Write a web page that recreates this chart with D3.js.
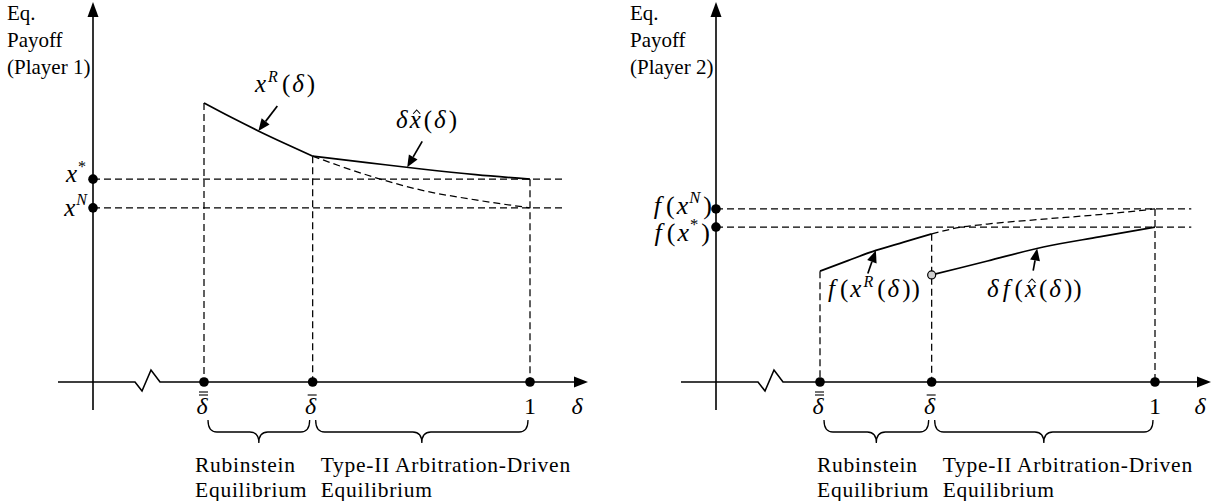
<!DOCTYPE html>
<html>
<head>
<meta charset="utf-8">
<script src="https://cdn.jsdelivr.net/npm/d3@7"></script>
<style>
  html, body { margin: 0; padding: 0; background: #fff; }
  svg { display: block; }
</style>
</head>
<body>
<svg id="chart" width="1225" height="501"></svg>
<script>
// Discount factors marked on the horizontal axis: double-bar delta, bar delta, 1
const deltaTicks = [0.4, 0.6, 1.0];
const tickLabels = ["δ", "δ", "1"];
const tickBars = [2, 1, 0];

// Player 1 payoffs
const p1Levels = [0.538, 0.462];                 // x*, x^N
const xRDelta = [0.40, 0.45, 0.50, 0.55, 0.60];
const xRValues = [0.740, 0.702, 0.666, 0.632, 0.599];
const xRContDelta = [0.60, 0.70, 0.80, 0.90, 1.00];
const xRContValues = [0.599, 0.549, 0.509, 0.483, 0.462];
const xHatDelta = [0.60, 0.70, 0.80, 0.90, 1.00];
const xHatValues = [0.599, 0.582, 0.565, 0.550, 0.538];

// Player 2 payoffs
const p2Levels = [0.459, 0.411];                 // f(x^N), f(x*)
const fRDelta = [0.40, 0.45, 0.50, 0.55, 0.60];
const fRValues = [0.294, 0.322, 0.349, 0.371, 0.393];
const fRContDelta = [0.60, 0.65, 0.70, 0.80, 0.90, 1.00];
const fRContValues = [0.393, 0.410, 0.419, 0.432, 0.444, 0.459];
const fHatDelta = [0.60, 0.70, 0.80, 0.90, 1.00];
const fHatValues = [0.284, 0.321, 0.358, 0.385, 0.411];

// Regime names under the braces
const regimeNames = [["Rubinstein", "Equilibrium"], ["Type-II Arbitration-Driven", "Equilibrium"]];

const levelLineEnd = 1.065;   // horizontal reference lines run a little past delta = 1

const FONT = "'Liberation Serif', 'Times New Roman', serif";
const svg = d3.select("#chart");
const y = d3.scaleLinear().domain([0, 1]).range([382, 5]);
const zip = (a, b) => a.map((d, i) => [d, b[i]]);

// Text made of upright / italic / superscript runs
function rich(g, x, yy, parts, size, anchor) {
  const t = g.append("text")
    .attr("x", x).attr("y", yy)
    .attr("font-family", FONT)
    .attr("font-size", size)
    .attr("text-anchor", anchor || "start");
  let shift = 0;
  const hats = [];
  let idx = 0;
  parts.forEach(p => {
    const ts = t.append("tspan").text(p.t);
    if (p.i) ts.attr("font-style", "italic");
    const target = p.sup ? -size * 0.42 : 0;
    let dy = target - shift;
    if (dy !== 0) { ts.attr("dy", dy); shift = target; }
    if (p.sup) ts.attr("font-size", size * 0.64);
    if (p.dx) ts.attr("dx", p.dx);
    if (p.hat) hats.push(idx);
    idx += p.t.length;
  });
  const node = t.node();
  hats.forEach(ci => {
    const s = node.getStartPositionOfChar(ci);
    const e = node.getEndPositionOfChar(ci);
    const cx = (s.x + e.x) / 2 + 1.5;
    const top = yy - size * 0.47 - 2.5;
    g.append("path")
      .attr("d", `M${cx - 3.5},${top} L${cx},${top - 3.8} L${cx + 3.5},${top}`)
      .attr("fill", "none").attr("stroke", "#000").attr("stroke-width", 1.1);
  });
  return t;
}

function arrow(g, x1, y1, x2, y2) {
  const ang = Math.atan2(y2 - y1, x2 - x1);
  const L = 12, W = 5;
  const bx = x2 - L * Math.cos(ang), by = y2 - L * Math.sin(ang);
  g.append("line").attr("x1", x1).attr("y1", y1).attr("x2", bx).attr("y2", by)
    .attr("stroke", "#000").attr("stroke-width", 1.7);
  const px = -Math.sin(ang) * W, py = Math.cos(ang) * W;
  g.append("path")
    .attr("d", `M${x2},${y2} L${bx + px},${by + py} L${bx - px},${by - py} Z`)
    .attr("fill", "#000");
}

function brace(g, x1, x2, top, mid, tip) {
  const cx = (x1 + x2) / 2, r = 9;
  g.append("path")
    .attr("d", `M${x1},${top} Q${x1},${mid} ${x1 + r},${mid} L${cx - r},${mid} Q${cx},${mid} ${cx},${tip}` +
               ` Q${cx},${mid} ${cx + r},${mid} L${x2 - r},${mid} Q${x2},${mid} ${x2},${top}`)
    .attr("fill", "none").attr("stroke", "#000").attr("stroke-width", 1.3);
}

function interp(ds, vs, d) {
  for (let i = 1; i < ds.length; i++) {
    if (d <= ds[i]) {
      const t = (d - ds[i - 1]) / (ds[i] - ds[i - 1]);
      return vs[i - 1] + t * (vs[i] - vs[i - 1]);
    }
  }
  return vs[vs.length - 1];
}

const panels = [
  {
    axisX: 93, xRange: [204, 530], player: "(Player 1)",
    levels: p1Levels,
    levelLabels: [
      { parts: [{ t: "x", i: true }, { t: "*", sup: true, dx: 1 }], dx: -7, dy: 3, size: 25 },
      { parts: [{ t: "x", i: true }, { t: "N", i: true, sup: true, dx: 1 }], dx: -6, dy: 8, size: 25 }
    ],
    solid: [[xRDelta, xRValues], [xHatDelta, xHatValues]],
    dashed: [[xRContDelta, xRContValues]],
    tickTops: [xRValues[0], xRValues[xRValues.length - 1], p1Levels[0]],
    labels: [
      { x: 255, y: 92, parts: [{ t: "x", i: true }, { t: "R", i: true, sup: true, dx: 2 }, { t: "(", dx: 4 }, { t: "δ", i: true, dx: 2 }, { t: ")", dx: 3 }] },
      { x: 396, y: 128, parts: [{ t: "δ", i: true }, { t: "x", i: true, hat: true, dx: 2 }, { t: "(", dx: 3 }, { t: "δ", i: true, dx: 2 }, { t: ")", dx: 3 }] }
    ],
    arrows: [
      { curve: [xRDelta, xRValues], at: 0.5, dx: 19, dy: -25 },
      { curve: [xHatDelta, xHatValues], at: 0.774, dx: 15, dy: -26 }
    ],
    openDot: null,
    textLeft: -9, textRight: 8
  },
  {
    axisX: 716, xRange: [820, 1155], player: "(Player 2)",
    levels: p2Levels,
    levelLabels: [
      { parts: [{ t: "f", i: true }, { t: "(", dx: 5 }, { t: "x", i: true, dx: 2 }, { t: "N", i: true, sup: true, dx: 1 }, { t: ")", dx: 3 }], dx: -4, dy: 5, size: 26 },
      { parts: [{ t: "f", i: true }, { t: "(", dx: 5 }, { t: "x", i: true, dx: 2 }, { t: "*", sup: true, dx: 1 }, { t: ")", dx: 3 }], dx: -6, dy: 14, size: 26 }
    ],
    solid: [[fRDelta, fRValues], [fHatDelta, fHatValues]],
    dashed: [[fRContDelta, fRContValues]],
    tickTops: [fRValues[0], fRValues[fRValues.length - 1], p2Levels[0]],
    labels: [
      { x: 828, y: 297, parts: [{ t: "f", i: true }, { t: "(", dx: 5 }, { t: "x", i: true, dx: 2 }, { t: "R", i: true, sup: true, dx: 2 }, { t: "(", dx: 4 }, { t: "δ", i: true, dx: 2 }, { t: ")", dx: 3 }, { t: ")", dx: 1 }] },
      { x: 987, y: 297, parts: [{ t: "δ", i: true }, { t: "f", i: true, dx: 4 }, { t: "(", dx: 5 }, { t: "x", i: true, hat: true, dx: 2 }, { t: "(", dx: 3 }, { t: "δ", i: true, dx: 2 }, { t: ")", dx: 3 }, { t: ")", dx: 1 }] }
    ],
    arrows: [
      { curve: [fRDelta, fRValues], at: 0.5, dx: -8, dy: 23 },
      { curve: [fHatDelta, fHatValues], at: 0.789, dx: -4, dy: 22 }
    ],
    openDot: [fHatDelta[0], fHatValues[0]],
    textLeft: -3, textRight: 11
  }
];

const line = (x) => d3.line().x(d => x(d[0])).y(d => y(d[1])).curve(d3.curveMonotoneX);

panels.forEach(p => {
  const g = svg.append("g");
  const x = d3.scaleLinear().domain([deltaTicks[0], deltaTicks[2]]).range(p.xRange);
  const ax = p.axisX, ay = y(0);

  // axis title
  ["Eq.", "Payoff", p.player].forEach((t, i) => {
    g.append("text").attr("x", ax - 86).attr("y", 20 + i * 27)
      .attr("font-family", FONT).attr("font-size", 21).text(t);
  });

  // horizontal reference lines
  p.levels.forEach(v => {
    g.append("line").attr("x1", ax).attr("x2", x(levelLineEnd))
      .attr("y1", y(v)).attr("y2", y(v))
      .attr("stroke", "#000").attr("stroke-width", 1.25).attr("stroke-dasharray", "7,4");
  });

  // vertical drop lines
  deltaTicks.forEach((d, i) => {
    g.append("line").attr("x1", x(d)).attr("x2", x(d))
      .attr("y1", y(p.tickTops[i])).attr("y2", ay)
      .attr("stroke", "#000").attr("stroke-width", 1.25).attr("stroke-dasharray", "7,4");
  });

  // dashed continuation curve
  p.dashed.forEach(([ds, vs]) => {
    g.append("path").datum(zip(ds, vs)).attr("d", line(x))
      .attr("fill", "none").attr("stroke", "#000").attr("stroke-width", 1.25)
      .attr("stroke-dasharray", "7,4");
  });

  // equilibrium payoff curves
  p.solid.forEach(([ds, vs]) => {
    g.append("path").datum(zip(ds, vs)).attr("d", line(x))
      .attr("fill", "none").attr("stroke", "#000").attr("stroke-width", 1.7);
  });

  // axes
  g.append("line").attr("x1", ax).attr("x2", ax).attr("y1", 410).attr("y2", 14)
    .attr("stroke", "#000").attr("stroke-width", 1.6);
  g.append("path").attr("d", `M${ax},2 L${ax - 5.5},17 L${ax + 5.5},17 Z`).attr("fill", "#000");
  const zig = [[ax - 35, ay], [ax + 42, ay], [ax + 49, ay + 9], [ax + 58, ay - 12], [ax + 67, ay], [ax + 483, ay]];
  g.append("path").attr("d", d3.line()(zig)).attr("fill", "none")
    .attr("stroke", "#000").attr("stroke-width", 1.6);
  g.append("path").attr("d", `M${ax + 495},${ay} L${ax + 481},${ay - 5.5} L${ax + 481},${ay + 5.5} Z`).attr("fill", "#000");

  // dots on the payoff axis
  p.levels.forEach(v => {
    g.append("circle").attr("cx", ax).attr("cy", y(v)).attr("r", 4.8).attr("fill", "#000");
  });
  // dots on the delta axis
  deltaTicks.forEach(d => {
    g.append("circle").attr("cx", x(d)).attr("cy", ay).attr("r", 4.8).attr("fill", "#000");
  });

  // open dot where the payoff jumps
  if (p.openDot) {
    g.append("circle").attr("cx", x(p.openDot[0])).attr("cy", y(p.openDot[1])).attr("r", 4)
      .attr("fill", "#d0d0d0").attr("stroke", "#000").attr("stroke-width", 1.2);
  }

  // payoff level labels
  p.levels.forEach((v, i) => {
    const L = p.levelLabels[i];
    rich(g, ax + L.dx, y(v) + L.dy, L.parts, L.size, "end");
  });

  // curve labels and pointers
  p.labels.forEach(L => rich(g, L.x, L.y, L.parts, 25, "start"));
  p.arrows.forEach(A => {
    const tx = x(A.at), ty = y(interp(A.curve[0], A.curve[1], A.at));
    arrow(g, tx + A.dx, ty + A.dy, tx, ty);
  });

  // tick labels on the delta axis
  deltaTicks.forEach((d, i) => {
    const cx = x(d) - (tickBars[i] ? 2 : 0);
    const t = g.append("text").attr("x", cx).attr("y", 414)
      .attr("font-family", FONT).attr("font-size", 24).attr("text-anchor", "middle")
      .text(tickLabels[i]);
    if (tickBars[i]) t.attr("font-style", "italic");
    for (let b = 0; b < tickBars[i]; b++) {
      const by = 395 - b * 3;
      g.append("line").attr("x1", cx - 3).attr("x2", cx + 6).attr("y1", by).attr("y2", by)
        .attr("stroke", "#000").attr("stroke-width", 1.1);
    }
  });
  g.append("text").attr("x", ax + 484).attr("y", 414)
    .attr("font-family", FONT).attr("font-size", 24).attr("font-style", "italic")
    .attr("text-anchor", "middle").text("δ");

  // regime braces
  brace(g, x(deltaTicks[0]) + 4, x(deltaTicks[1]) - 3, 420, 432, 443);
  brace(g, x(deltaTicks[1]) + 3, x(deltaTicks[2]) - 2, 420, 432, 443);

  // regime names, two lines each
  const starts = [x(deltaTicks[0]) + p.textLeft, x(deltaTicks[1]) + p.textRight];
  regimeNames.forEach((lines, k) => {
    lines.forEach((s, j) => {
      g.append("text").attr("x", starts[k]).attr("y", 472 + j * 24.5)
        .attr("font-family", FONT).attr("font-size", 21.5)
        .attr("letter-spacing", 0.75).text(s);
    });
  });
});
</script>
</body>
</html>
